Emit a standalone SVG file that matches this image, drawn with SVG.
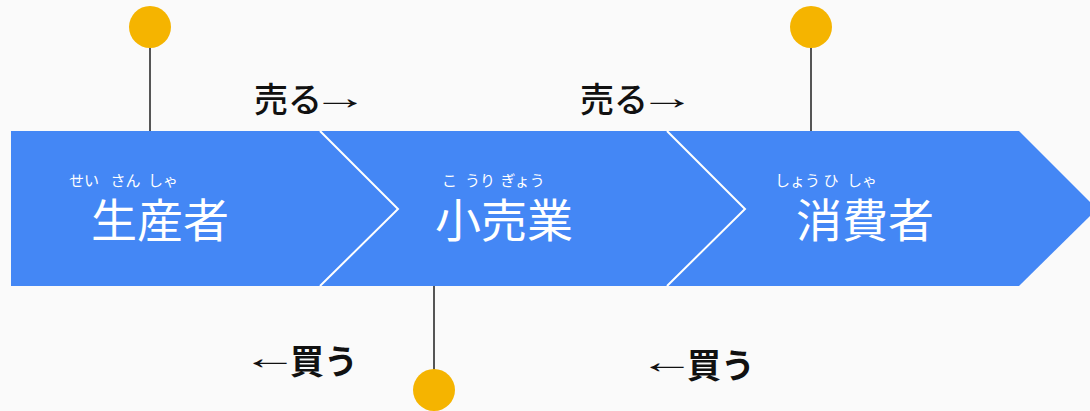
<svg xmlns="http://www.w3.org/2000/svg" width="1090" height="411" viewBox="0 0 1090 411">
<style>
.jp{font-family:"Noto Sans CJK JP","Noto Sans",sans-serif}
.main{font-size:46px;fill:#fff}
.ruby{font-size:15px;fill:#fff}
.sell{font-size:34px;fill:#111;font-weight:500}
.buy{font-size:34px;fill:#111;font-weight:700}
.arr{font-family:"Liberation Sans",Arial,sans-serif;font-size:34px;fill:#111}
.stem{stroke:#555;stroke-width:2}
.pin{fill:#F5B400}
.sep{fill:none;stroke:#fff;stroke-width:2}
</style>
<rect width="1090" height="411" fill="#FAFAFA"/>
<g id="band">
<polygon points="11,131 1019,131 1097,209 1019,286 11,286" fill="#4487F5"/>
<polyline class="sep" points="320,131 398,209 320,286"/>
<polyline class="sep" points="667,131 745,209 667,286"/>
</g>
<g id="connectors">
<line class="stem" x1="150" y1="46" x2="150" y2="131"/>
<line class="stem" x1="811" y1="46" x2="811" y2="131"/>
<line class="stem" x1="434" y1="286" x2="434" y2="371"/>
</g>
<g id="pin-producer"><circle class="pin" cx="150" cy="27" r="21"/></g>
<g id="pin-consumer"><circle class="pin" cx="811" cy="27" r="21"/></g>
<g id="pin-retail"><circle class="pin" cx="434" cy="390" r="21"/></g>
<g id="node-producer">
<text class="jp ruby" x="69" y="186">せい</text>
<text class="jp ruby" x="110.5" y="186">さん</text>
<text class="jp ruby" x="148" y="186">しゃ</text>
<text class="jp main" x="91" y="237">生産者</text>
</g>
<g id="node-retail">
<text class="jp ruby" x="442" y="186">こ</text>
<text class="jp ruby" x="465" y="186">うり</text>
<text class="jp ruby" x="500.5" y="186">ぎょう</text>
<text class="jp main" x="435" y="237">小売業</text>
</g>
<g id="node-consumer">
<text class="jp ruby" x="775" y="186">しょう</text>
<text class="jp ruby" x="823.5" y="186">ひ</text>
<text class="jp ruby" x="847" y="186">しゃ</text>
<text class="jp main" x="796" y="237">消費者</text>
</g>
<g id="labels">
<text class="jp sell" x="254" y="112">売る</text>
<text class="arr" transform="translate(312,109) scale(1.65,1)">→</text>
<text class="jp sell" x="580" y="112">売る</text>
<text class="arr" transform="translate(639,109) scale(1.65,1)">→</text>
<text class="arr" transform="translate(242,369) scale(1.65,1)">←</text>
<text class="jp buy" x="290" y="374">買う</text>
<text class="arr" transform="translate(639,373) scale(1.65,1)">←</text>
<text class="jp buy" x="687" y="378">買う</text>
</g>
</svg>
